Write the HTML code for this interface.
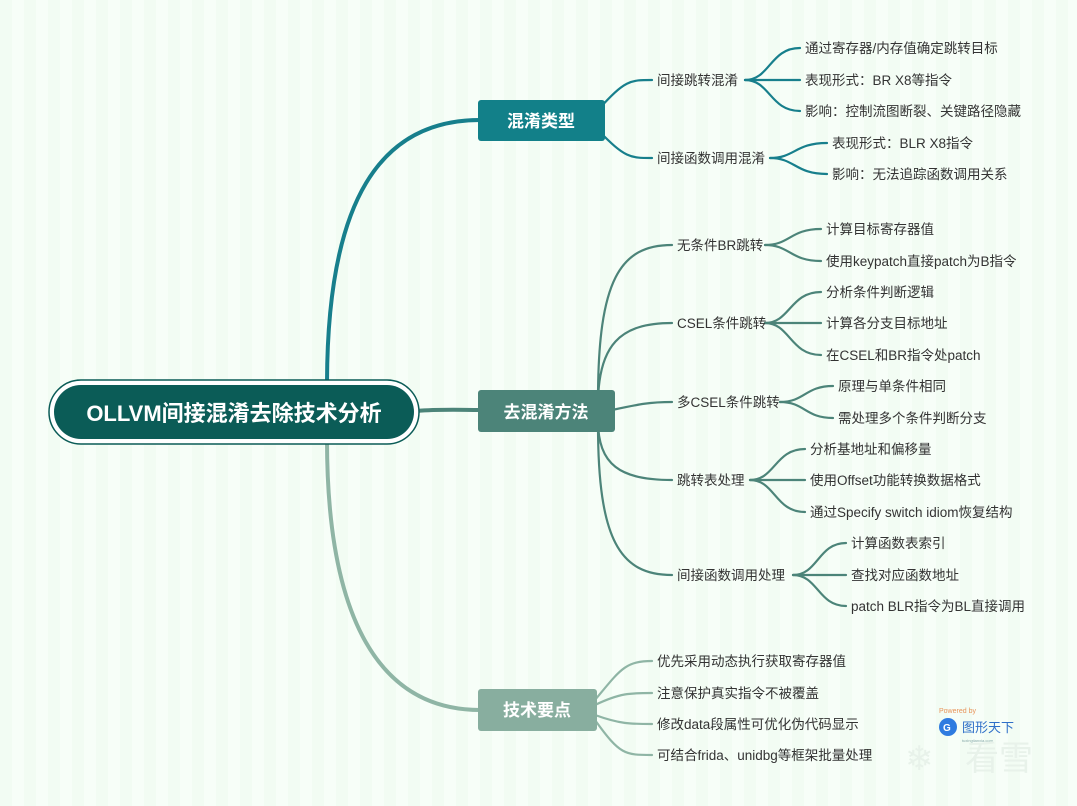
<!DOCTYPE html>
<html><head><meta charset="utf-8"><style>
html,body{margin:0;padding:0;width:1077px;height:806px;overflow:hidden}
body{background:repeating-linear-gradient(90deg,#f2fcf3 0 12px,#f7fef8 12px 24px);font-family:"Liberation Sans","Noto Sans CJK SC",sans-serif}
svg{position:absolute;left:0;top:0}
text{font-family:"Liberation Sans","Noto Sans CJK SC",sans-serif}
</style></head><body>
<svg width="1077" height="806" viewBox="0 0 1077 806">
<g fill="none" stroke-linecap="round">
<path d="M327,385 C327,200 380,120 480,120" stroke="#177f8c" stroke-width="4"/>
<path d="M417,411 C440,409 460,410 480,410" stroke="#4c8479" stroke-width="4"/>
<path d="M327,440 C327,620 380,710 480,710" stroke="#8fb5a5" stroke-width="4"/>
<g stroke="#177f8c" stroke-width="2.2">
<path d="M598,110 C625,80 630,80 652,80"/>
<path d="M598,130 C625,158 630,158 652,158"/>
<path d="M745,80 C770,80 770,48 800,48"/>
<path d="M745,80 L800,80"/>
<path d="M745,80 C770,80 770,111 800,111"/>
<path d="M770,158 C795,158 795,143 827,143"/>
<path d="M770,158 C795,158 795,174 827,174"/>
</g>
<g stroke="#4c8479" stroke-width="2.2">
<path d="M598,400 C598,280 620,245 672,245"/>
<path d="M598,405 C598,345 620,323 672,323"/>
<path d="M612,410 C640,404 650,402 672,402"/>
<path d="M598,420 C598,465 620,480 672,480"/>
<path d="M598,425 C598,540 620,575 672,575"/>
<path d="M765,245 C790,245 790,229 821,229"/>
<path d="M765,245 C790,245 790,261 821,261"/>
<path d="M765,323 C790,323 790,292 821,292"/>
<path d="M765,323 L821,323"/>
<path d="M765,323 C790,323 790,355 821,355"/>
<path d="M780,402 C805,402 805,386 833,386"/>
<path d="M780,402 C805,402 805,418 833,418"/>
<path d="M750,480 C775,480 775,449 805,449"/>
<path d="M750,480 L805,480"/>
<path d="M750,480 C775,480 775,512 805,512"/>
<path d="M793,575 C818,575 818,543 846,543"/>
<path d="M793,575 L846,575"/>
<path d="M793,575 C818,575 818,606 846,606"/>
</g>
<g stroke="#8fb5a5" stroke-width="2.2">
<path d="M595,700 C620,670 625,661 652,661"/>
<path d="M595,705 C620,693 630,693 652,693"/>
<path d="M595,715 C620,724 630,724 652,724"/>
<path d="M595,720 C620,755 625,755 652,755"/>
</g>
</g>
<rect x="49" y="380" width="370" height="64" rx="32" fill="#fff" stroke="#0b5c57" stroke-width="1.5"/>
<rect x="54" y="385" width="360" height="54" rx="27" fill="#0b5c57"/>
<text x="234" y="421" text-anchor="middle" fill="#fff" font-size="22" font-weight="bold">OLLVM间接混淆去除技术分析</text>
<rect x="478" y="100" width="127" height="41" rx="3" fill="#128089"/>
<text x="541" y="127" text-anchor="middle" fill="#fff" font-size="17" font-weight="bold">混淆类型</text>
<rect x="478" y="390" width="137" height="42" rx="3" fill="#4c8479"/>
<text x="546" y="418" text-anchor="middle" fill="#fff" font-size="17" font-weight="bold">去混淆方法</text>
<rect x="478" y="689" width="119" height="42" rx="3" fill="#88ae9f"/>
<text x="537" y="716" text-anchor="middle" fill="#fff" font-size="17" font-weight="bold">技术要点</text>
<g fill="#333" font-size="13.5">
<text x="657" y="85">间接跳转混淆</text>
<text x="657" y="163">间接函数调用混淆</text>
<text x="805" y="53">通过寄存器/内存值确定跳转目标</text>
<text x="805" y="85">表现形式：BR X8等指令</text>
<text x="805" y="116">影响：控制流图断裂、关键路径隐藏</text>
<text x="832" y="148">表现形式：BLR X8指令</text>
<text x="832" y="179">影响：无法追踪函数调用关系</text>
<text x="677" y="250">无条件BR跳转</text>
<text x="677" y="328">CSEL条件跳转</text>
<text x="677" y="407">多CSEL条件跳转</text>
<text x="677" y="485">跳转表处理</text>
<text x="677" y="580">间接函数调用处理</text>
<text x="826" y="234">计算目标寄存器值</text>
<text x="826" y="266">使用keypatch直接patch为B指令</text>
<text x="826" y="297">分析条件判断逻辑</text>
<text x="826" y="328">计算各分支目标地址</text>
<text x="826" y="360">在CSEL和BR指令处patch</text>
<text x="838" y="391">原理与单条件相同</text>
<text x="838" y="423">需处理多个条件判断分支</text>
<text x="810" y="454">分析基地址和偏移量</text>
<text x="810" y="485">使用Offset功能转换数据格式</text>
<text x="810" y="517">通过Specify switch idiom恢复结构</text>
<text x="851" y="548">计算函数表索引</text>
<text x="851" y="580">查找对应函数地址</text>
<text x="851" y="611">patch BLR指令为BL直接调用</text>
<text x="657" y="666">优先采用动态执行获取寄存器值</text>
<text x="657" y="698">注意保护真实指令不被覆盖</text>
<text x="657" y="729">修改data段属性可优化伪代码显示</text>
<text x="657" y="760">可结合frida、unidbg等框架批量处理</text>
</g>
<text x="939" y="713" fill="#e8945a" font-size="7">Powered by</text>
<circle cx="948" cy="727" r="9" fill="#2f7be0"/>
<text x="943" y="731" fill="#fff" font-size="10" font-weight="bold">G</text>
<text x="962" y="732" fill="#2f6fc8" font-size="13">图形天下</text>
<text x="962" y="742" fill="#8aa" font-size="4">tuxingtianxia.com</text>
<text x="905" y="770" fill="#e8f2ea" font-size="34">❄</text>
<text x="965" y="770" fill="#e8f2ea" font-size="34">看雪</text>
</svg>
</body></html>
